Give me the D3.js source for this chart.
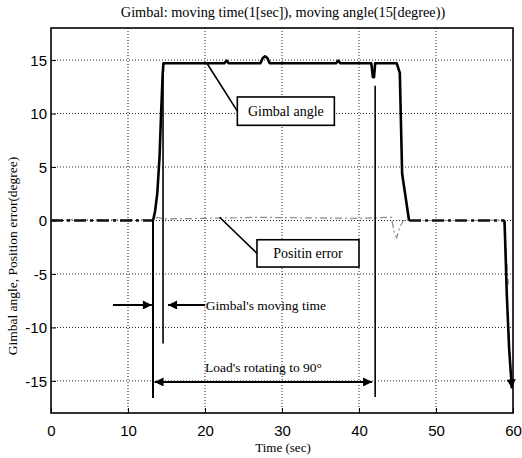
<!DOCTYPE html>
<html>
<head>
<meta charset="utf-8">
<script src="https://cdn.jsdelivr.net/npm/d3@7"></script>
<style>
  body { margin: 0; background: #fff; }
  svg { display: block; }
</style>
</head>
<body>
<div id="chart"></div>
<script>
// Data
var x_ticks = [0, 10, 20, 30, 40, 50, 60];
var y_ticks = [-15, -10, -5, 0, 5, 10, 15];

// Gimbal angle (degree) over time (sec)
var gimbal_time  = [0, 5, 10, 13.25, 13.5, 13.8, 14.1, 14.3, 14.5, 14.6, 18, 22.5, 22.8, 23.1, 27.2,
                    27.5, 27.8, 28.1, 28.4, 33, 37.0, 37.3, 37.6, 41.6, 41.8, 41.95, 42.1, 44.9,
                    45.3, 45.6, 46.5, 50, 55, 58.9, 59.2, 59.5, 59.85];
var gimbal_angle = [0, 0, 0, 0, 0.8, 2.5, 6, 10, 13.6, 14.7, 14.7, 14.7, 14.95, 14.7, 14.7,
                    15.2, 15.35, 15.2, 14.7, 14.7, 14.7, 14.95, 14.7, 14.7, 13.4, 13.4, 14.7, 14.7,
                    13.8, 4.4, 0, 0, 0, 0, -7, -12, -15.7];

// Position error (degree)
var error_time  = [0, 6, 13.2, 13.8, 14.6, 20, 27, 33, 40, 44.2, 44.6, 44.9, 45.3, 45.8, 50, 55, 58.8, 59.1, 59.4];
var error_value = [0.05, 0.05, 0.05, 0.3, 0.15, 0.2, 0.3, 0.25, 0.2, 0.3, -1.2, -1.6, -0.6, 0, 0, 0, 0.05, -3, -6];

var title_text  = 'Gimbal: moving time(1[sec]), moving angle(15[degree))';
var x_label     = 'Time (sec)';
var y_label     = 'Gimbal angle, Position error(degree)';

// The SVG Element
var chart_width  = 522;
var chart_height = 458;
var plot_left = 51, plot_right = 513, plot_top = 28, plot_bottom = 413;

var svg = d3.select('#chart')
    .append('svg')
    .attr('width', chart_width)
    .attr('height', chart_height);

var defs = svg.append('defs');
defs.append('marker')
    .attr('id', 'arrow')
    .attr('viewBox', '0 0 10 10')
    .attr('refX', 10)
    .attr('refY', 5)
    .attr('markerUnits', 'userSpaceOnUse')
    .attr('markerWidth', 12)
    .attr('markerHeight', 9)
    .attr('orient', 'auto-start-reverse')
    .append('path')
    .attr('d', 'M0,0 L10,5 L0,10 Z')
    .attr('fill', '#000');

// Scales
var scale_x = d3.scaleLinear().domain([0, 60]).range([plot_left, plot_right]);
var scale_y = d3.scaleLinear().domain([-18, 18]).range([plot_bottom, plot_top]);

// Grid
var grid = svg.append('g').attr('class', 'grid');
grid.selectAll('.gx')
    .data(x_ticks.slice(1, -1))
    .enter()
    .append('line')
    .attr('x1', function(d){ return scale_x(d); })
    .attr('x2', function(d){ return scale_x(d); })
    .attr('y1', plot_top)
    .attr('y2', plot_bottom)
    .attr('stroke', '#222')
    .attr('stroke-width', 1)
    .attr('stroke-dasharray', '1,2');
grid.selectAll('.gy')
    .data(y_ticks)
    .enter()
    .append('line')
    .attr('x1', plot_left)
    .attr('x2', plot_right)
    .attr('y1', function(d){ return scale_y(d); })
    .attr('y2', function(d){ return scale_y(d); })
    .attr('stroke', '#222')
    .attr('stroke-width', 1)
    .attr('stroke-dasharray', '1,2');

// Axes (plain hyphen for negatives, like the original)
var plain = function(d){ return String(d); };
var axis_x = d3.axisBottom(scale_x).tickValues(x_ticks).tickFormat(plain).tickSize(-5).tickPadding(12);
var axis_y = d3.axisLeft(scale_y).tickValues(y_ticks).tickFormat(plain).tickSize(-5).tickPadding(4);

var gx = svg.append('g')
    .attr('class', 'x-axis')
    .attr('transform', 'translate(0,' + plot_bottom + ')')
    .call(axis_x);
var gy = svg.append('g')
    .attr('class', 'y-axis')
    .attr('transform', 'translate(' + plot_left + ',0)')
    .call(axis_y);

[gx, gy].forEach(function(g){
    g.select('.domain').remove();
    g.selectAll('.tick line').attr('stroke', '#000');
    g.selectAll('.tick text')
        .attr('fill', '#000')
        .style('font-family', '"Liberation Sans", Arial, sans-serif')
        .style('font-size', '15px');
});
gy.selectAll('.tick text').attr('dy', '0.36em');

// Frame
svg.append('rect')
    .attr('x', plot_left)
    .attr('y', plot_top)
    .attr('width', plot_right - plot_left)
    .attr('height', plot_bottom - plot_top)
    .attr('fill', 'none')
    .attr('stroke', '#000')
    .attr('stroke-width', 1.6);

// Series
var gimbal_data = gimbal_time.map(function(t, i){ return [t, gimbal_angle[i]]; });
var error_data  = error_time.map(function(t, i){ return [t, error_value[i]]; });

function is_rest(d){
    return d[0] <= 13.25 || (d[0] >= 46.5 && d[0] <= 58.9);
}
function is_moving(d){
    return d[0] >= 13.25 && (d[0] <= 46.5 || d[0] >= 58.9);
}

var line_moving = d3.line()
    .defined(is_moving)
    .x(function(d){ return scale_x(d[0]); })
    .y(function(d){ return scale_y(d[1]); });
var line_rest = d3.line()
    .defined(is_rest)
    .x(function(d){ return scale_x(d[0]); })
    .y(function(d){ return scale_y(d[1]); });
var line_error = d3.line()
    .x(function(d){ return scale_x(d[0]); })
    .y(function(d){ return scale_y(d[1]); });

svg.append('path')
    .datum(error_data)
    .attr('d', line_error)
    .attr('fill', 'none')
    .attr('stroke', '#8a8a8a')
    .attr('stroke-width', 1.2)
    .attr('stroke-dasharray', '7,3,2,3');

svg.append('path')
    .datum(gimbal_data)
    .attr('d', line_rest)
    .attr('fill', 'none')
    .attr('stroke', '#111')
    .attr('stroke-width', 2.4)
    .attr('stroke-dasharray', '12,4,3,4');

svg.append('path')
    .datum(gimbal_data)
    .attr('d', line_moving)
    .attr('fill', 'none')
    .attr('stroke', '#000')
    .attr('stroke-width', 2.6)
    .attr('stroke-linejoin', 'round')
    .attr('marker-end', 'url(#arrow)');

// Annotations
var note_font = '"Liberation Serif", "Times New Roman", serif';
var notes = svg.append('g').attr('class', 'notes');

function vline(t, v1, v2, w){
    notes.append('line')
        .attr('x1', scale_x(t)).attr('x2', scale_x(t))
        .attr('y1', scale_y(v1)).attr('y2', scale_y(v2))
        .attr('stroke', '#000').attr('stroke-width', w || 1.6);
}
vline(13.25, 0, -16.6, 2);
vline(14.55, 14.7, -11.5, 1.6);
vline(42.1, 12.6, -16.5, 1.6);

function arrow(t1, t2, v, both){
    var l = notes.append('line')
        .attr('x1', scale_x(t1)).attr('x2', scale_x(t2))
        .attr('y1', scale_y(v)).attr('y2', scale_y(v))
        .attr('stroke', '#000').attr('stroke-width', 1.8)
        .attr('marker-end', 'url(#arrow)');
    if (both) l.attr('marker-start', 'url(#arrow)');
}
arrow(8.05, 13.1, -7.9);
arrow(20.0, 15.2, -7.9);
arrow(13.45, 41.7, -15.1, true);

notes.append('text')
    .attr('x', scale_x(20.1))
    .attr('y', scale_y(-8.35))
    .style('font-family', note_font)
    .style('font-size', '13.5px')
    .text("Gimbal's moving time");
notes.append('text')
    .attr('x', scale_x(20.0))
    .attr('y', scale_y(-14.2))
    .style('font-family', note_font)
    .style('font-size', '13.5px')
    .text("Load's rotating to 90\u00b0");

function boxed(label, t1, t2, v1, v2, from){
    var x1 = scale_x(t1), x2 = scale_x(t2), y1 = scale_y(v1), y2 = scale_y(v2);
    notes.append('line')
        .attr('x1', scale_x(from[0])).attr('y1', scale_y(from[1]))
        .attr('x2', x1).attr('y2', (y1 + y2) / 2)
        .attr('stroke', '#000').attr('stroke-width', 1.6);
    notes.append('rect')
        .attr('x', x1).attr('y', y1)
        .attr('width', x2 - x1).attr('height', y2 - y1)
        .attr('fill', '#fff').attr('stroke', '#000').attr('stroke-width', 1.6);
    notes.append('text')
        .attr('x', (x1 + x2) / 2)
        .attr('y', (y1 + y2) / 2 + 5)
        .attr('text-anchor', 'middle')
        .style('font-family', note_font)
        .style('font-size', '14px')
        .text(label);
}
boxed('Gimbal angle', 24.2, 36.8, 11.55, 8.9, [20.25, 14.7]);
boxed('Positin error', 26.75, 40.0, -1.8, -4.35, [21.9, 0.3]);

// Titles
svg.append('text')
    .attr('x', 283)
    .attr('y', 17)
    .attr('text-anchor', 'middle')
    .style('font-family', note_font)
    .style('font-size', '14.3px')
    .text(title_text);

svg.append('text')
    .attr('x', 283)
    .attr('y', 452)
    .attr('text-anchor', 'middle')
    .style('font-family', note_font)
    .style('font-size', '13px')
    .text(x_label);

svg.append('text')
    .attr('transform', 'translate(17,256) rotate(-90)')
    .attr('text-anchor', 'middle')
    .style('font-family', note_font)
    .style('font-size', '13.5px')
    .text(y_label);
</script>
</body>
</html>
